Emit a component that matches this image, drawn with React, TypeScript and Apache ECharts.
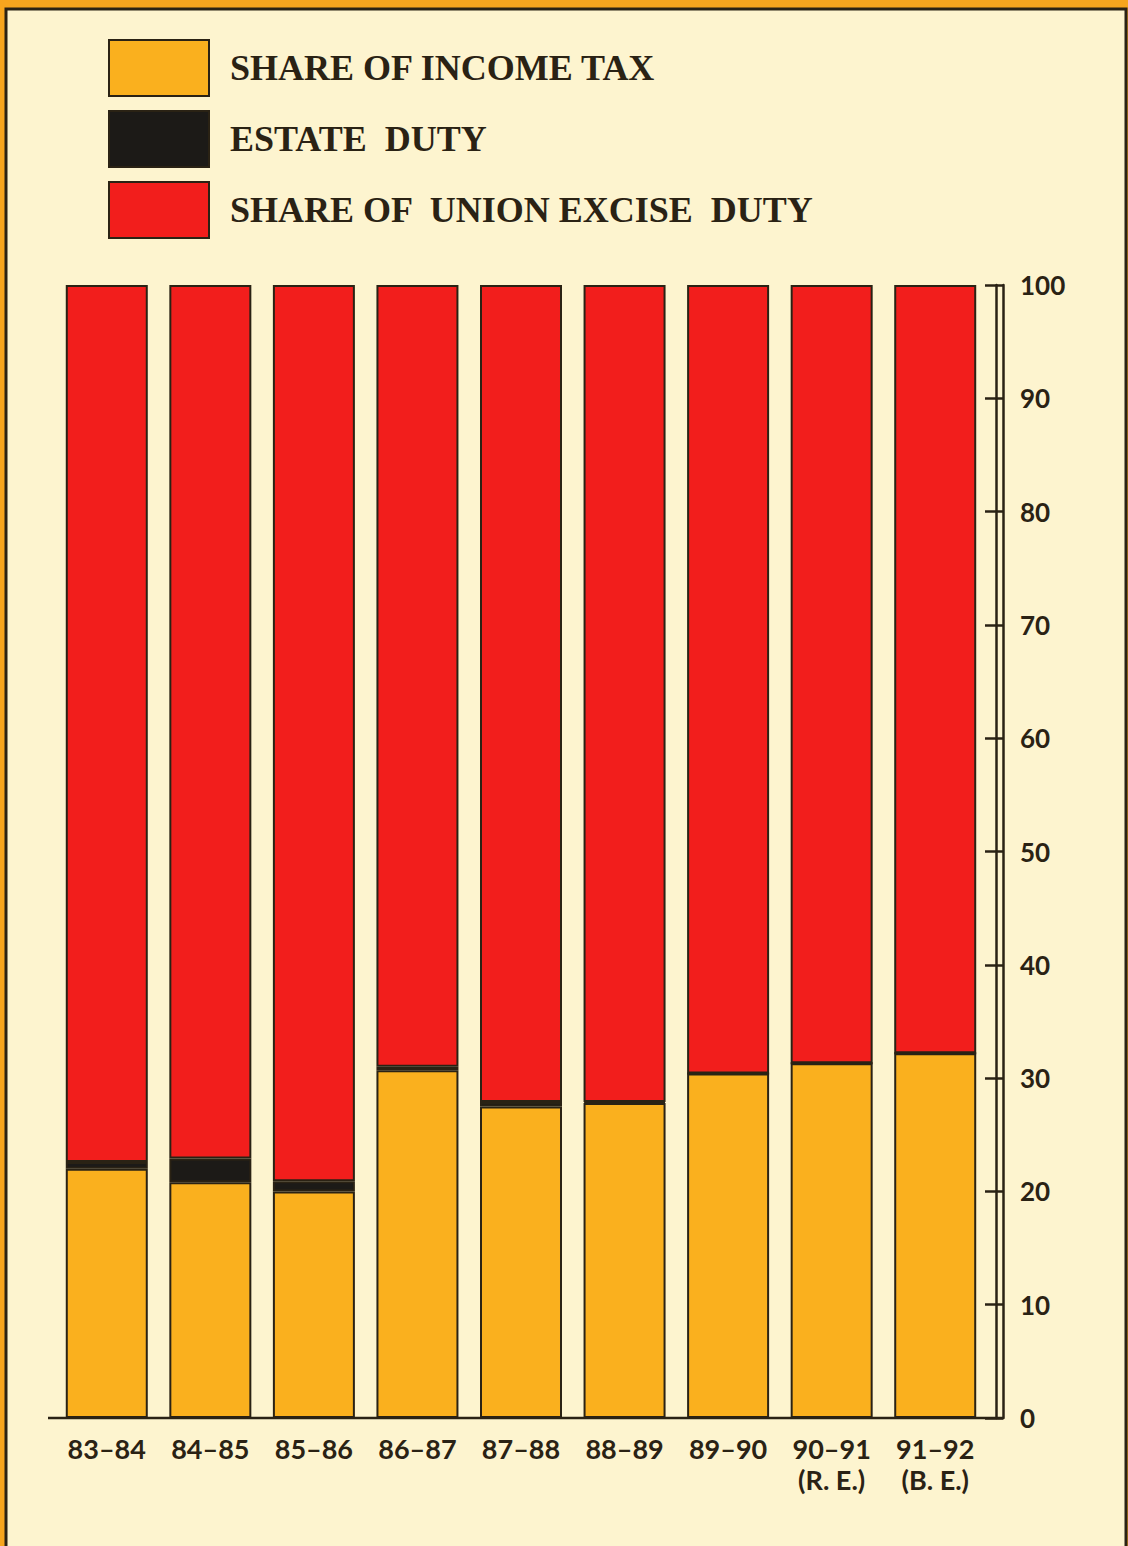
import React, { useEffect, useRef } from "react";
import * as echarts from "echarts";

const categories = [
  "83–84",
  "84–85",
  "85–86",
  "86–87",
  "87–88",
  "88–89",
  "89–90",
  "90–91\n(R. E.)",
  "91–92\n(B. E.)",
];
const incomeTax = [22.0, 20.8, 20.0, 30.7, 27.5, 27.8, 30.4, 31.3, 32.2];
const estateDuty = [0.6, 2.1, 0.9, 0.3, 0.4, 0.1, 0, 0, 0];
const exciseDuty = incomeTax.map((v, i) => +(100 - v - estateDuty[i]).toFixed(1));
const yTicks = [0, 10, 20, 30, 40, 50, 60, 70, 80, 90, 100];

const W = 1128;
const H = 1546;
const GRID_LEFT = 55;
const GRID_RIGHT_EDGE = 987;
const GRID_TOP = 285;
const GRID_BOTTOM_Y = 1418;

const INK = "#2a2214";
const ORANGE = "#FAB01E";
const RED = "#F21E1C";
const BLACK = "#1c1a17";
const CREAM = "#FDF4CF";
const FRAME = "#F6A51E";

export default function App() {
  const ref = useRef<HTMLDivElement>(null);
  useEffect(() => {
    if (!ref.current) return;
    const chart = echarts.init(ref.current, undefined, { renderer: "svg" });
    const barStyle = (color: string) => ({
      color,
      borderColor: INK,
      borderWidth: 2,
    });
    chart.setOption({
      animation: false,
      backgroundColor: FRAME,
      graphic: [
        {
          type: "rect",
          shape: { x: 6, y: 9, width: W - 8, height: H },
          style: { fill: CREAM, stroke: INK, lineWidth: 3 },
          z: -10,
        },
        {
          type: "line",
          shape: { x1: 48, y1: GRID_BOTTOM_Y, x2: 1004, y2: GRID_BOTTOM_Y },
          style: { stroke: INK, lineWidth: 2.5 },
          z: 10,
        },
      ],
      legend: {
        orient: "vertical",
        left: 108,
        top: 39,
        padding: 0,
        icon: "rect",
        itemWidth: 100,
        itemHeight: 56,
        itemGap: 13,
        selectedMode: false,
        textStyle: {
          fontFamily: "Liberation Serif",
          fontWeight: "bold",
          fontSize: 36,
          color: INK,
          padding: [6, 0, 0, 16],
        },
        data: ["SHARE OF INCOME TAX", "ESTATE  DUTY", "SHARE OF  UNION EXCISE  DUTY"],
      },
      grid: {
        left: GRID_LEFT,
        top: GRID_TOP,
        width: GRID_RIGHT_EDGE - GRID_LEFT,
        height: GRID_BOTTOM_Y - GRID_TOP,
        containLabel: false,
      },
      xAxis: {
        type: "category",
        data: categories,
        axisLine: { show: false },
        axisTick: { show: false },
        axisLabel: {
          interval: 0,
          margin: 15,
          fontFamily: "Lato",
          fontWeight: "bold",
          fontSize: 27,
          lineHeight: 31,
          color: INK,
        },
      },
      yAxis: [
        {
          type: "value",
          position: "right",
          offset: 16,
          min: 0,
          max: 100,
          interval: 10,
          splitLine: { show: false },
          axisLine: { show: true, lineStyle: { color: INK, width: 2.5 } },
          axisTick: { show: true, inside: true, length: 18, lineStyle: { color: INK, width: 2.5 } },
          axisLabel: {
            margin: 17,
            fontFamily: "Lato",
            fontWeight: "bold",
            fontSize: 26,
            color: INK,
            formatter: (v: number) => (yTicks.includes(v) ? String(v) : ""),
          },
        },
        {
          type: "value",
          position: "right",
          offset: 9,
          min: 0,
          max: 100,
          interval: 10,
          splitLine: { show: false },
          axisLine: { show: true, lineStyle: { color: INK, width: 2.5 } },
          axisTick: { show: false },
          axisLabel: { show: false },
        },
      ],
      series: [
        {
          name: "SHARE OF INCOME TAX",
          type: "bar",
          stack: "total",
          barWidth: 82,
          data: incomeTax,
          itemStyle: barStyle(ORANGE),
        },
        {
          name: "ESTATE  DUTY",
          type: "bar",
          stack: "total",
          barWidth: 82,
          data: estateDuty,
          itemStyle: barStyle(BLACK),
        },
        {
          name: "SHARE OF  UNION EXCISE  DUTY",
          type: "bar",
          stack: "total",
          barWidth: 82,
          data: exciseDuty,
          itemStyle: barStyle(RED),
        },
      ],
    });
    return () => chart.dispose();
  }, []);
  return (
    <div
      ref={ref}
      style={{ position: "fixed", left: 0, top: 0, width: W, height: H }}
    />
  );
}
